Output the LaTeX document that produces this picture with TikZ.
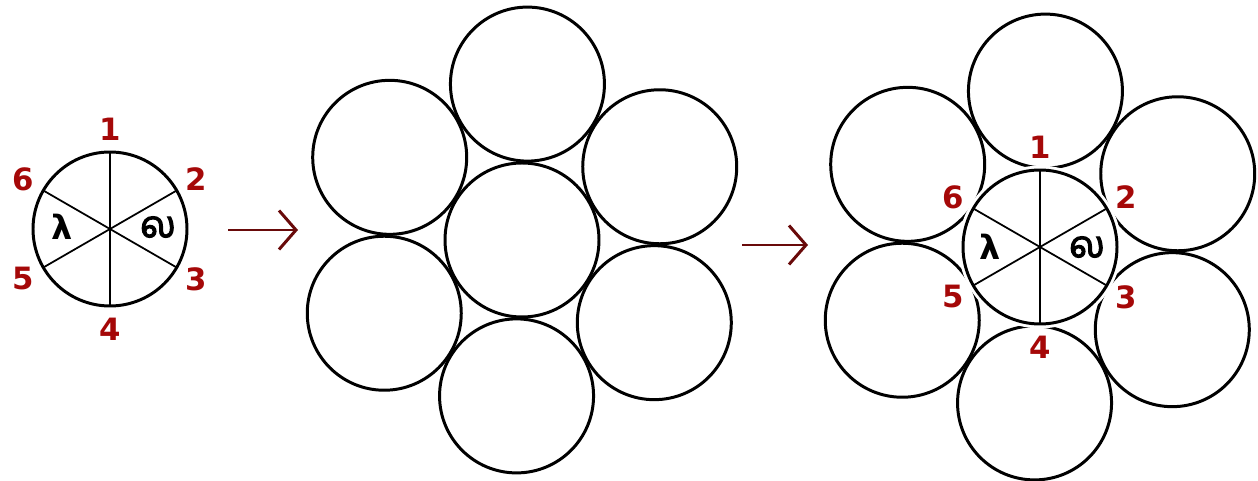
\documentclass[tikz,border=0pt]{standalone}
\usepackage{fontspec}
\usetikzlibrary{arrows.meta}
\newfontfamily\numfont{DejaVu Sans}
\newfontfamily\tamilfont[Script=Tamil, FakeBold=3]{Hind Madurai}
\definecolor{numred}{RGB}{165,8,8}
\definecolor{arrowred}{RGB}{105,10,10}

\begin{document}
\begin{tikzpicture}[x=0.2mm, y=0.2mm,
  wire/.style={circle, draw, line width=1.7pt, minimum size=30.8mm, inner sep=0pt, outer sep=0pt},
  core/.style={wire, fill=white, preaction={draw=white, line width=5pt}},
  num/.style={fill=white, inner sep=1pt, text=numred, font=\numfont\bfseries\fontsize{17.5}{20}\selectfont},
  lam/.style={font=\numfont\bfseries\fontsize{19}{20}\selectfont},
  tam/.style={font=\tamilfont\fontsize{21}{22}\selectfont},
  split/.style={line width=1pt},
  flow/.style={-{Straight Barb[length=3.4mm, width=7.8mm]}, draw=arrowred, line width=1.7pt}]
  \useasboundingbox (0,0) rectangle (1258,481);

  % single strand, cut in six
  \node[wire] (L0) at (110,252) {};
  \draw[split] (L0.90) -- (L0.270) (L0.30) -- (L0.210) (L0.150) -- (L0.330);
  \node[lam] (Llam) at ([shift={(-48,2)}]L0.center) {λ};
  \node[tam] (Ltam) at ([shift={(48,2)}]L0.center) {ல};
  \foreach \a [count=\i] in {90,30,-30,-90,210,150}
    \node[num] (Ln\i) at ([shift={(\a:100)}]L0.center) {\i};

  % seven strands
  \node[wire] (M0) at (522,241) {};
  \foreach \a [count=\i] in {88,28,-32,-92,208,148}
    \node[wire] (M\i) at ([shift={(\a:156)}]M0.center) {};

  % seven strands, centre one numbered
  \coordinate (Rc) at (1040,234);
  \foreach \a [count=\i] in {88,28,-32,-92,208,148}
    \node[wire] (R\i) at ([shift={(\a:156)}]Rc) {};
  \node[core] (R0) at (Rc) {};
  \draw[split] (R0.90) -- (R0.270) (R0.30) -- (R0.210) (R0.150) -- (R0.330);
  \node[lam] (Rlam) at ([shift={(-50,0)}]R0.center) {λ};
  \node[tam] (Rtam) at ([shift={(47,0)}]R0.center) {ல};
  \foreach \a [count=\i] in {90,30,-30,-90,210,150}
    \node[num] (Rn\i) at ([shift={(\a:100)}]R0.center) {\i};

  % arrows
  \coordinate (a1) at (228,251);
  \coordinate (b1) at (298,251);
  \coordinate (a2) at (742,236);
  \coordinate (b2) at (808,236);
  \draw[flow] (a1) -- (b1);
  \draw[flow] (a2) -- (b2);
\end{tikzpicture}
\end{document}
